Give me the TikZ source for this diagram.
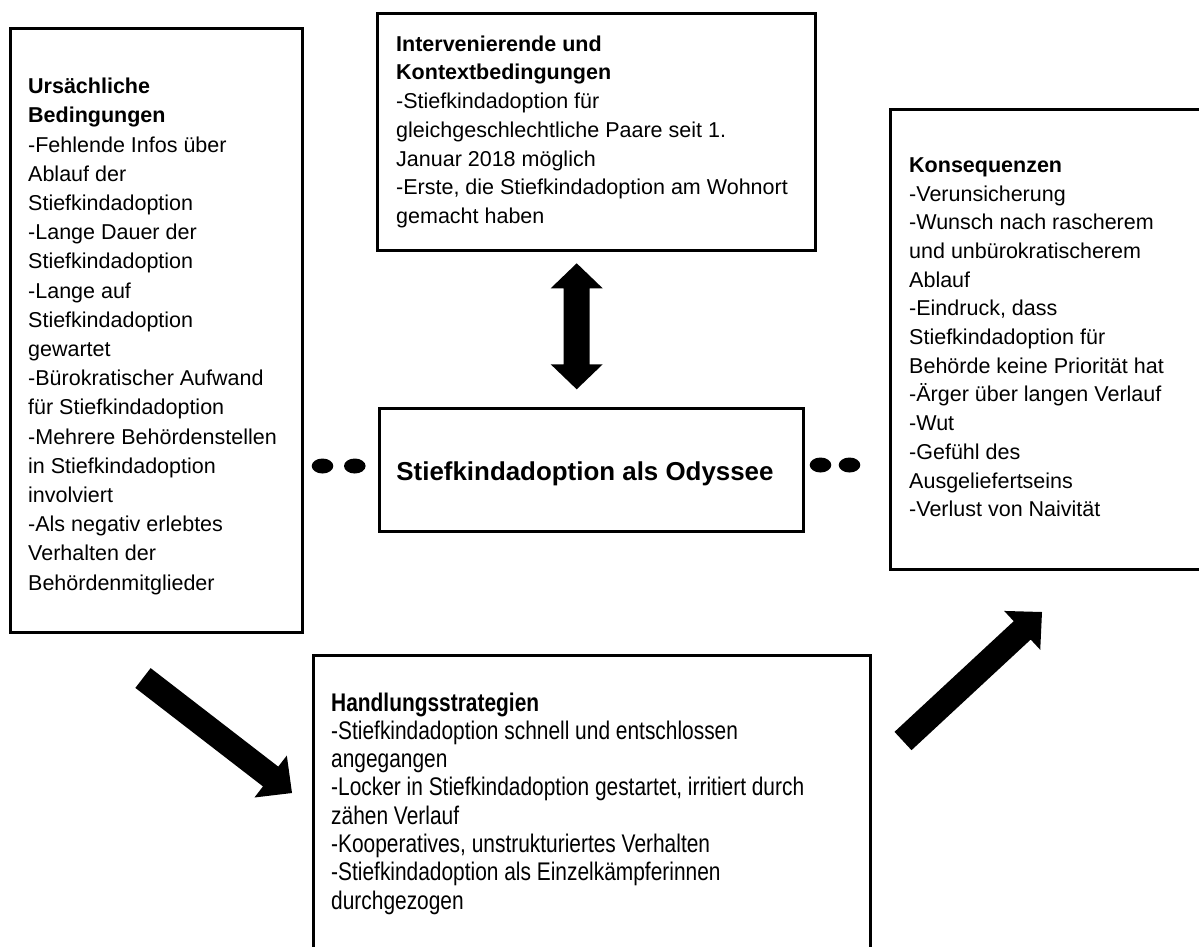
\documentclass[tikz,border=0pt]{standalone}
\usepackage{fontspec}
\setmainfont{Liberation Sans}
\newfontfamily\narrowfont[FakeStretch=0.82]{Liberation Sans}
\usetikzlibrary{calc}

\tikzset{
  box/.style={draw=black, line width=3pt, fill=white},
  boxtext/.style={anchor=north west, inner sep=0pt, align=left,
    font=\fontsize{21.5}{28.7}\selectfont},
  widetext/.style={anchor=north west, inner sep=0pt, align=left,
    font=\fontsize{21.5}{29.2}\selectfont},
  narrowtext/.style={anchor=north west, inner sep=0pt, align=left,
    font=\narrowfont\fontsize{25.5}{28.3}\selectfont},
  dot/.style={fill=black, draw=none},
}

% fat block arrow from #1 to #2 (shaft half width, head half width, head length)
\newcommand\fatarrow[2]{%
  \fill ($(#1)!12.5pt!90:(#2)$)
     -- ($($(#2)!27pt!(#1)$)!12.5pt!90:(#2)$)
     -- ($($(#2)!27pt!(#1)$)!26.5pt!90:(#2)$)
     -- (#2)
     -- ($($(#2)!27pt!(#1)$)!26.5pt!-90:(#2)$)
     -- ($($(#2)!27pt!(#1)$)!12.5pt!-90:(#2)$)
     -- ($(#1)!12.5pt!-90:(#2)$) -- cycle;}

% fat block arrow with heads at both ends
\newcommand\fatdblarrow[2]{%
  \fill (#1)
     -- ($($(#1)!25pt!(#2)$)!26pt!90:(#2)$)
     -- ($($(#1)!25pt!(#2)$)!13pt!90:(#2)$)
     -- ($($(#2)!25pt!(#1)$)!13pt!-90:(#1)$)
     -- ($($(#2)!25pt!(#1)$)!26pt!-90:(#1)$)
     -- (#2)
     -- ($($(#2)!25pt!(#1)$)!26pt!90:(#1)$)
     -- ($($(#2)!25pt!(#1)$)!13pt!90:(#1)$)
     -- ($($(#1)!25pt!(#2)$)!13pt!-90:(#2)$)
     -- ($($(#1)!25pt!(#2)$)!26pt!-90:(#2)$)
     -- cycle;}

\begin{document}
\begin{tikzpicture}[x=1pt, y=-1pt]
  \useasboundingbox (0,0) rectangle (1199,946);
  \clip (0,0) rectangle (1199,946);

  % boxes
  \draw[box] (10,28) rectangle (302,632);
  \draw[box] (377,13) rectangle (815,250);
  \draw[box] (379,408) rectangle (803,531);
  \draw[box] (890,109) rectangle (1215,569);
  \draw[box] (313,655) rectangle (870,980);

  % causal conditions
  \node[widetext] (ursaechlich) at (28,73) {\strut\textbf{Ursächliche}\\
    \textbf{Bedingungen}\\
    -Fehlende Infos über\\
    Ablauf der\\
    Stiefkindadoption\\
    -Lange Dauer der\\
    Stiefkindadoption\\
    -Lange auf\\
    Stiefkindadoption\\
    gewartet\\
    -Bürokratischer Aufwand\\
    für Stiefkindadoption\\
    -Mehrere Behördenstellen\\
    in Stiefkindadoption\\
    involviert\\
    -Als negativ erlebtes\\
    Verhalten der\\
    Behördenmitglieder};

  % intervening and context conditions
  \node[boxtext] (kontext) at (396,31) {\strut\textbf{Intervenierende und}\\
    \textbf{Kontextbedingungen}\\
    -Stiefkindadoption für\\
    gleichgeschlechtliche Paare seit 1.\\
    Januar 2018 möglich\\
    -Erste, die Stiefkindadoption am Wohnort\\
    gemacht haben};

  % core phenomenon
  \node[anchor=base, inner sep=0pt, font=\fontsize{25.9}{30}\selectfont\bfseries]
    (odyssee) at (585,480) {Stiefkindadoption als Odyssee};

  % consequences
  \node[boxtext] (konsequenzen) at (909,152) {\strut\textbf{Konsequenzen}\\
    -Verunsicherung\\
    -Wunsch nach rascherem\\
    und unbürokratischerem\\
    Ablauf\\
    -Eindruck, dass\\
    Stiefkindadoption für\\
    Behörde keine Priorität hat\\
    -Ärger über langen Verlauf\\
    -Wut\\
    -Gefühl des\\
    Ausgeliefertseins\\
    -Verlust von Naivität};

  % action strategies
  \node[narrowtext] (strategien) at (331,691) {\strut\textbf{Handlungsstrategien}\\
    -Stiefkindadoption schnell und entschlossen\\
    angegangen\\
    -Locker in Stiefkindadoption gestartet, irritiert durch\\
    zähen Verlauf\\
    -Kooperatives, unstrukturiertes Verhalten\\
    -Stiefkindadoption als Einzelkämpferinnen\\
    durchgezogen};

  % dots beside the core phenomenon
  \fill[dot] (322.5,466) ellipse [x radius=10.8, y radius=7.5];
  \fill[dot] (354.8,466) ellipse [x radius=10.8, y radius=7.5];
  \fill[dot] (820.5,465) ellipse [x radius=10.8, y radius=7.5];
  \fill[dot] (849.5,465) ellipse [x radius=10.8, y radius=7.5];

  % arrows
  \coordinate (dblTop) at (576.7,263.3);
  \coordinate (dblBot) at (576.7,389.3);
  \fatdblarrow{dblTop}{dblBot}

  \coordinate (leftTail) at (143,678);
  \coordinate (leftTip) at (292,793);
  \fatarrow{leftTail}{leftTip}

  \coordinate (rightTail) at (903,741);
  \coordinate (rightTip) at (1042,612);
  \fatarrow{rightTail}{rightTip}
\end{tikzpicture}
\end{document}
